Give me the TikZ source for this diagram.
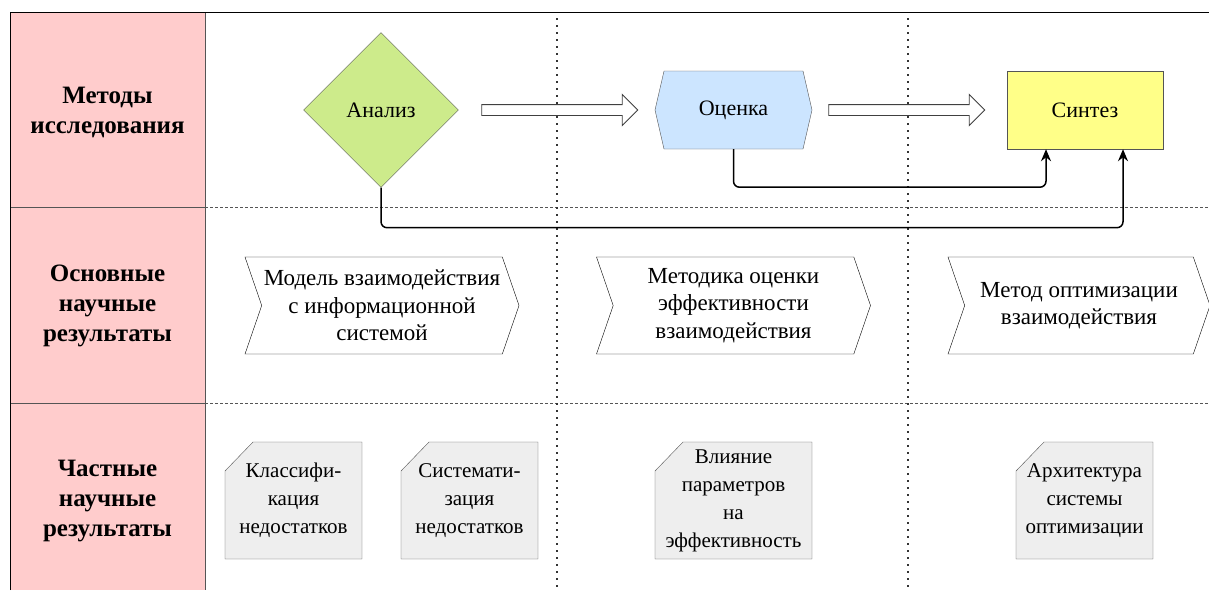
\documentclass[tikz,border=0pt]{standalone}
\usepackage{fontspec}
\setmainfont{Liberation Serif}
\usetikzlibrary{arrows.meta,shapes.geometric,shapes.symbols,shapes.arrows}

\definecolor{lanepink}{HTML}{FFCCCC}
\definecolor{analizgreen}{HTML}{CDEB8B}
\definecolor{ocenkablue}{HTML}{CCE5FF}
\definecolor{sintezyellow}{HTML}{FFFF88}
\definecolor{partgray}{HTML}{EEEEEE}
\definecolor{edgegray}{HTML}{555555}

\newcommand\mainsize{\fontsize{23}{27.5}\selectfont}
\newcommand\partsize{\fontsize{21}{28}\selectfont}

% folded box: name, centre x, width, text
\newcommand\chastbox[4]{%
  \draw[partial] ({#2-#3/2},471) -- ({#2-#3/2+28},442) -- ({#2+#3/2},442)
    -- ({#2+#3/2},559) -- ({#2-#3/2},559) -- cycle;
  \node(#1)[parttext, minimum width=#3pt] at (#2,500.5) {#4};}

\tikzset{
  lane/.style={align=center, font=\fontsize{25}{30}\selectfont\bfseries},
  method/.style={draw=edgegray, align=center, inner sep=0pt, font=\fontsize{22}{26}\selectfont},
  result/.style={signal, signal from=west, signal to=east, signal pointer angle=142,
    draw=black, fill=white, minimum width=274pt, minimum height=97pt,
    align=center, inner sep=0pt, font=\mainsize},
  partial/.style={draw=edgegray, fill=partgray},
  parttext/.style={align=center, inner sep=0pt, minimum height=117pt, font=\partsize},
  hollow/.style={single arrow, draw=black!75, line width=0.9pt, fill=white, minimum height=156pt,
    single arrow head extend=10pt, single arrow tip angle=90,
    inner xsep=0pt, inner ysep=5pt},
  conn/.style={->, line width=1.5pt, rounded corners=6pt},
}

\begin{document}
\begin{tikzpicture}[>={Stealth[length=12pt, width=10pt]}, x=1pt, y=-1pt]
\useasboundingbox (0,0) rectangle (1209,590);

% lanes
\fill[lanepink] (10,12) rectangle (205,590);
\draw[edgegray] (205,12) -- (205,590);
\draw[edgegray] (10,207) -- (205,207);
\draw[edgegray] (10,403) -- (205,403);
\draw[black, line width=1pt] (10,590) -- (10,12) -- (1209,12);
\draw[edgegray, dash pattern=on 3pt off 2pt] (205,207) -- (1209,207);
\draw[edgegray, dash pattern=on 3pt off 2pt] (205,403) -- (1209,403);
\draw[black!80, line width=1.6pt, dash pattern=on 1.6pt off 5.4pt] (557,18) -- (557,590);
\draw[black!80, line width=1.6pt, dash pattern=on 1.6pt off 5.4pt] (908,18) -- (908,590);

\node(Metody)[lane] at (107.5,112) {Методы\\исследования};
\node(Osnovnye)[lane] at (107.5,306) {Основные\\научные\\результаты};
\node(Chastnye)[lane] at (107.5,501) {Частные\\научные\\результаты};

% methods
\node(Analiz)[method, diamond, fill=analizgreen, minimum width=155pt, minimum height=155pt] at (381,110) {Анализ};
\node(Ocenka)[method, signal, signal to=west and east, signal pointer angle=154, fill=ocenkablue, minimum width=157pt, minimum height=78pt] at (733.5,110) {Оценка};
\node(Sintez)[method, rectangle, fill=sintezyellow, minimum width=156pt, minimum height=78pt] at (1085,110) {Синтез};

\node(Arr1)[hollow] at (557,110) {};
\node(Arr2)[hollow] at (904,110) {};

\draw[conn] (Ocenka.south) -- ++(0,38) -| ([xshift=-39pt]Sintez.south);
\draw[conn] (Analiz.south) -- ++(0,40) -| ([xshift=38pt]Sintez.south);

% results
\node(Model)[result] at (382,305.5) {Модель взаимодействия\\с информационной\\системой};
\node(Metodika)[result] at (733.5,305.5) {Методика оценки\\эффективности\\взаимодействия};
\node(Metod)[result, minimum width=262pt] at (1079,305.5) {Метод оптимизации\\взаимодействия};

% partial results
\chastbox{Klass}{293.5}{137}{Классифи-\\кация\\недостатков}
\chastbox{Sistem}{469.5}{137}{Системати-\\зация\\недостатков}
\chastbox{Vliyanie}{733.5}{157}{\fontsize{21}{24.5}\selectfont Влияние\\параметров\\на\\эффективность}
\chastbox{Arkh}{1084.5}{137}{Архитектура\\системы\\оптимизации}
\end{tikzpicture}
\end{document}
